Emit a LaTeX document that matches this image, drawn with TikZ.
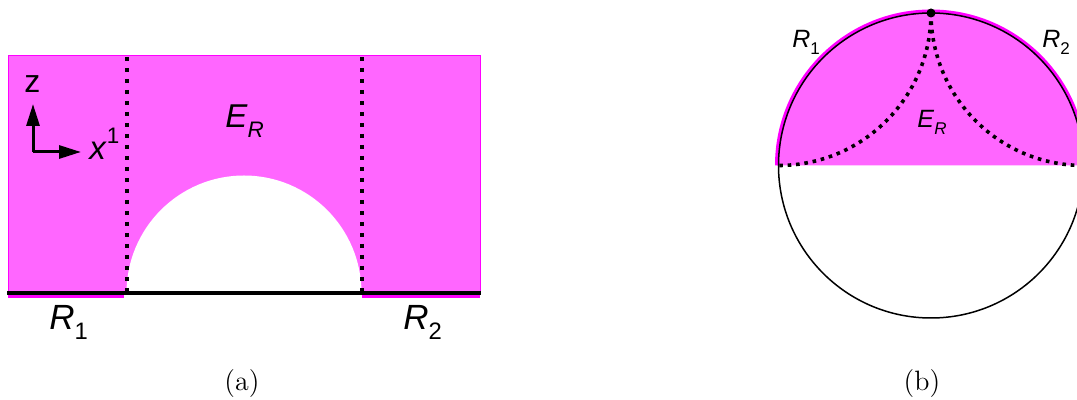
\documentclass[tikz,border=0pt]{standalone}
\usepackage{fontspec}
\newfontfamily\arial{Liberation Sans}
\usetikzlibrary{arrows.meta}
\definecolor{pinkfill}{HTML}{FF66FF}
\definecolor{pinkedge}{HTML}{FF00FF}
\newcommand\lsub[2]{\textit{#1}\raisebox{-0.28em}{\scalebox{0.68}{#2}}}
\tikzset{
  lab/.style={inner sep=0pt, anchor=base west, font=\arial},
  dotsA/.style={line width=2pt, dash pattern=on 2pt off 3.5pt},
  dotsB/.style={line width=1.8pt, dash pattern=on 1.8pt off 2.4pt},
  axis/.style={line width=1.5pt, -{Triangle[length=11pt,width=6.5pt]}},
}
\begin{document}
\begin{tikzpicture}[x=0.5pt,y=-0.5pt]
\useasboundingbox (0,0) rectangle (1077,400);
\clip (0,0) rectangle (1077,400);
% ---------- panel (a)
\fill[pinkfill, draw=pinkedge, line width=0.5pt] (8,56) rectangle (480,293);
\coordinate (sc) at (244,293);
\fill[white] (126.5,293) arc[start angle=180, end angle=360, radius=117.5] -- cycle;
\draw[pinkedge, line width=3.5pt] (8,294.5) -- (124,294.5);
\draw[pinkedge, line width=3.5pt] (362,294.5) -- (480,294.5);
\coordinate (bl) at (7,293);
\coordinate (br) at (481,293);
\draw[line width=2pt] (bl) -- (br);
\coordinate (d1t) at (126.5,57);
\coordinate (d1b) at (126.5,293);
\coordinate (d2t) at (361.5,57);
\coordinate (d2b) at (361.5,293);
\draw[dotsA] (d1t) -- (d1b);
\draw[dotsA] (d2t) -- (d2b);
\coordinate (ax0) at (33,152);
\coordinate (axz) at (33,104);
\coordinate (axx) at (81,152);
\draw[axis] (ax0) -- (axz);
\draw[axis] (ax0) -- (axx);
\node[lab, font=\arial\fontsize{16}{18}\selectfont] (zl) at (24,93) {z};
\node[lab, font=\arial\fontsize{16.5}{18}\selectfont] (xl) at (89,160) {\textit{x}\raisebox{0.5em}{\scalebox{0.68}{1}}};
\node[lab, font=\arial\fontsize{16.5}{18}\selectfont] (ERa) at (225,128) {\lsub{E}{\textit{R}}};
\node[lab, font=\arial\fontsize{17.5}{20}\selectfont] (R1a) at (49,330) {\lsub{R}{1}};
\node[lab, font=\arial\fontsize{17.5}{20}\selectfont] (R2a) at (403,330) {\lsub{R}{2}};
\node[inner sep=0pt, anchor=base, font=\fontsize{14}{16}\selectfont] (capa) at (242,391) {(a)};
% ---------- panel (b)
\coordinate (O) at (931,165.5);
\coordinate (L) at (778.5,165.5);
\coordinate (T) at (931,13);
\coordinate (R) at (1083.5,165.5);
\fill[pinkfill] (L) arc[start angle=180, end angle=360, radius=152.5] -- cycle;
\draw[pinkedge, line width=2pt] (777,165.5) arc[start angle=180, end angle=360, radius=154];
\draw[line width=0.75pt] (O) circle[radius=152.5];
\draw[dotsB] (T) arc[start angle=0, end angle=90, radius=152.5];
\draw[dotsB] (T) arc[start angle=180, end angle=90, radius=152.5];
\fill (T) circle[radius=4.5];
\node[lab, font=\arial\fontsize{12.5}{14}\selectfont] (R1b) at (792,48) {\lsub{R}{1}};
\node[lab, font=\arial\fontsize{12.5}{14}\selectfont] (R2b) at (1042,48) {\lsub{R}{2}};
\node[lab, font=\arial\fontsize{12.5}{14}\selectfont] (ERb) at (917,128) {\lsub{E}{\textit{R}}};
\node[inner sep=0pt, anchor=base, font=\fontsize{14}{16}\selectfont] (capb) at (922,391) {(b)};
\end{tikzpicture}
\end{document}
